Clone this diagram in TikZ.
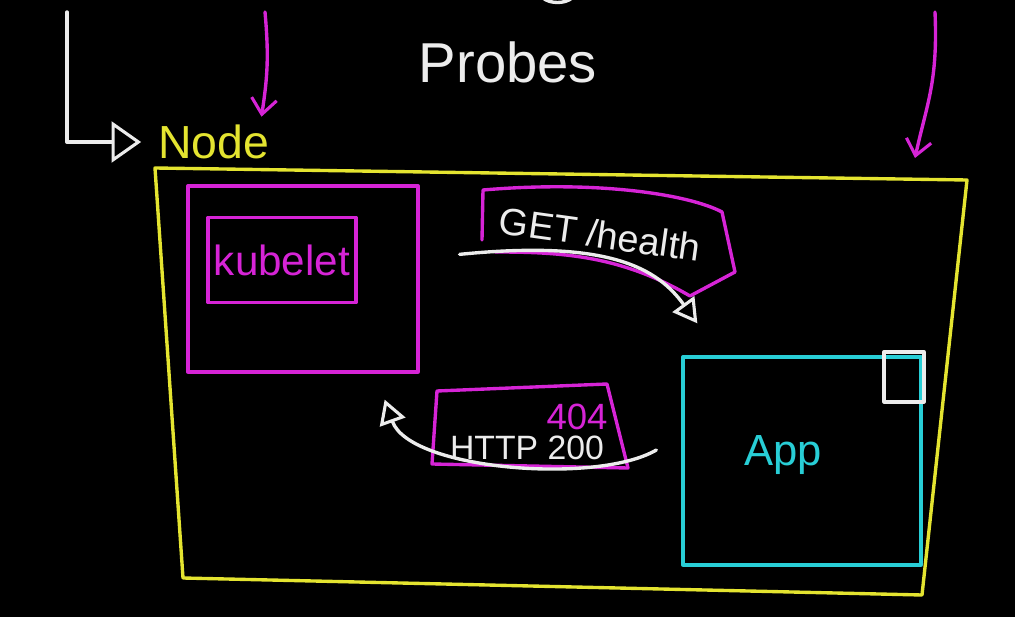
\documentclass[tikz,border=0pt]{standalone}
\usepackage{fontspec}
\setmainfont{Liberation Sans}
\usetikzlibrary{arrows.meta}
\definecolor{chalkyellow}{RGB}{228,228,48}
\definecolor{chalkpink}{RGB}{214,36,214}
\definecolor{chalkcyan}{RGB}{40,206,214}
\definecolor{chalkwhite}{RGB}{236,236,236}
\begin{document}
\begin{tikzpicture}[x=0.025cm,y=-0.025cm,
  pen/.style={line width=2.4pt,line cap=round,line join=round},
  framebox/.style={draw,line width=2.3pt,line join=round,inner sep=0pt},
  open tip/.style={-{Triangle[open,length=17pt,width=19pt,line width=2.2pt]}},
  barb tip/.style={-{Straight Barb[length=11pt,width=18pt,line width=2.2pt]}}]
\fill[black] (0,0) rectangle (1015,617);
\useasboundingbox (0,0) rectangle (1015,617);
\node[text=chalkwhite,font=\fontsize{40}{48}\selectfont] (title) at (508,62) {Probes};
\node[text=chalkyellow,font=\fontsize{33}{40}\selectfont,anchor=west,inner sep=0pt] (nodelabel) at (158,142) {Node};
% the node frame
\coordinate (ftl) at (155,168);
\coordinate (ftr) at (967,180);
\coordinate (fbr) at (922,595);
\coordinate (fbl) at (183,578);
\draw[pen,chalkyellow] (ftl) -- (ftr) -- (fbr) -- (fbl) -- cycle;
\node[framebox,draw=chalkpink,minimum width=5.75cm,minimum height=4.65cm] (kubeletpod) at (303,279) {};
\node[framebox,draw=chalkpink,minimum width=3.7cm,minimum height=2.125cm] (kubeletbox) at (282,260) {};
\node[text=chalkpink,font=\fontsize{30}{36}\selectfont] (kubelet) at (kubeletbox) {kubelet};
\node[framebox,draw=chalkcyan,minimum width=5.95cm,minimum height=5.2cm] (app) at (802,461) {};
\node[text=chalkcyan,font=\fontsize{31}{36}\selectfont] (applabel) at (783,455) {App};
\node[framebox,draw=chalkwhite,minimum width=1cm,minimum height=1.25cm] (icon) at (904,377) {};
% request
\node[text=chalkwhite,font=\fontsize{27}{32}\selectfont,rotate=-8] (getlabel) at (600,234) {GET /health};
\draw[pen,chalkpink] (482,240) -- (483,190) .. controls (600,180) and (690,195) .. (722,212) -- (735,272) -- (690,296) .. controls (620,255) and (560,252) .. (495,252);
\draw[pen,chalkwhite,open tip] ([shift={(40,70)}]kubeletpod.north east) .. controls +(150,-15) and +(-40,-55) .. ([shift={(16,-32)}]app.north west);
% response
\node[text=chalkwhite,font=\fontsize{24}{28}\selectfont] (httplabel) at (527,448) {HTTP 200};
\node[text=chalkpink,font=\fontsize{26}{30}\selectfont] (notfound) at (577,417) {404};
\draw[pen,chalkpink] (437,391) -- (607,384) -- (628,468) -- (432,464) -- cycle;
\draw[pen,chalkwhite,open tip] ([shift={(-25,-11)}]app.west) .. controls +(-60,35) and +(25,70) .. ([shift={(-35,26)}]kubeletpod.south east);
% probes from above
\coordinate (probeline) at (67,12);
\coordinate (probeleft) at (265,12);
\coordinate (proberight) at (935,12);
\draw[pen,chalkwhite,-{Triangle[open,length=21pt,width=29pt,line width=2.2pt]}] (probeline) |- ([xshift=-12]nodelabel.west);
\draw[pen,chalkpink,barb tip] (probeleft) .. controls +(4,45) and +(6,-40) .. ([shift={(-8,-8)}]nodelabel.north east);
\draw[pen,chalkpink,barb tip] (proberight) .. controls +(3,70) and +(12,-55) .. ([shift={(-52,-22)}]ftr);
\draw[pen,chalkwhite] (543,-2) .. controls (550,4) and (565,4) .. (572,-2);
\end{tikzpicture}
\end{document}
